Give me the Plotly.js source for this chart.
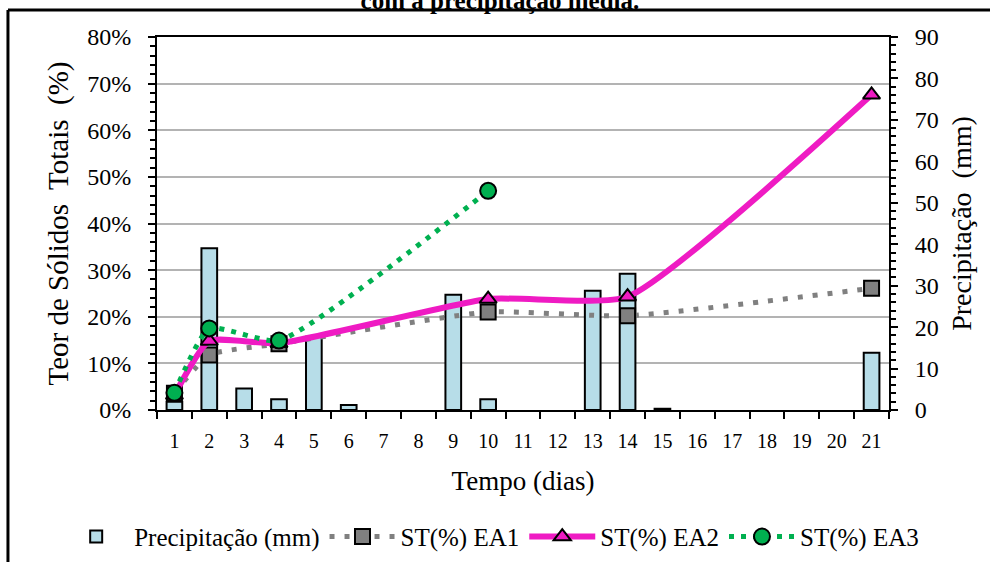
<!DOCTYPE html>
<html>
<head>
<meta charset="utf-8">
<script src="https://cdn.plot.ly/plotly-3.0.1.min.js"></script>
<style>html,body{margin:0;padding:0;background:#fff;}#chart{width:990px;height:562px;}</style>
</head>
<body>
<div id="chart"></div>
<script>
// Categories (days)
var days = ['1','2','3','4','5','6','7','8','9','10','11','12','13','14','15','16','17','18','19','20','21'];
// Precipitation (mm)
var precip = [2.0, 39.0, 5.2, 2.6, 17.7, 1.2, null, null, 27.8, 2.6, null, null, 28.8, 32.9, 0.3, null, null, null, null, null, 13.8];
// Total solids (%)
var stEA1 = [3.6, 11.8, null, 14.2, null, null, null, null, null, 21.0, null, null, null, 20.2, null, null, null, null, null, null, 26.1];
var stEA2 = [3.2, 14.8, null, 14.3, null, null, null, null, null, 23.8, null, null, null, 24.3, null, null, null, null, null, null, 67.6];
var stEA3 = [3.7, 17.5, null, 14.9, null, null, null, null, null, 47.0, null, null, null, null, null, null, null, null, null, null, null];

var serif = '"Liberation Serif", "Times New Roman", Times, serif';

var traces = [
  {type:'bar', x:days, y:precip, name:'Precipitação (mm)', yaxis:'y', width:0.45,
   marker:{color:'#b7dde8', line:{color:'#000', width:2}}},
  {type:'scatter', mode:'lines+markers', x:days, y:stEA1, name:'ST(%) EA1', yaxis:'y2', connectgaps:true,
   line:{color:'#808080', width:5, dash:'5px,10px', shape:'spline', smoothing:0.5},
   marker:{symbol:'square', size:15, color:'#808080', line:{color:'#000', width:2}}},
  {type:'scatter', mode:'lines+markers', x:days, y:stEA2, name:'ST(%) EA2', yaxis:'y2', connectgaps:true,
   line:{color:'#ef1bc3', width:6, shape:'spline', smoothing:0.5},
   marker:{symbol:'triangle-up', size:15, color:'#ef1bc3', line:{color:'#000', width:2}}},
  {type:'scatter', mode:'lines+markers', x:days, y:stEA3, name:'ST(%) EA3', yaxis:'y2', connectgaps:true,
   line:{color:'#00b050', width:5, dash:'5px,7px', shape:'spline', smoothing:0.5},
   marker:{symbol:'circle', size:16, color:'#00b050', line:{color:'#000', width:2}}}
];

var layout = {
  width:990, height:562,
  margin:{l:157, r:101, t:37, b:152, autoexpand:false},
  paper_bgcolor:'#fff', plot_bgcolor:'#fff',
  font:{family:serif, color:'#000', size:22},
  title:{text:'<b>com a precipitação média.</b>', font:{family:serif, size:25, color:'#000'},
         x:0.505, xref:'container', y:1.0, yref:'container', yanchor:'middle'},
  showlegend:true,
  hovermode:false,
  xaxis:{type:'category', range:[-0.5, 20.5], tickson:'boundaries', ticks:'outside', ticklen:7, tickwidth:2, tickcolor:'#000',
         showline:true, linecolor:'#000', linewidth:2, mirror:true, showgrid:false,
         ticklabelstandoff:12,
         tickfont:{family:serif, size:20},
         title:{text:'Tempo (dias)', font:{family:serif, size:27}, standoff:20}},
  yaxis:{range:[0,90], dtick:10, side:'right', showgrid:false, zeroline:false,
         showline:true, linecolor:'#000', linewidth:2,
         ticks:'outside', ticklen:7, tickwidth:2, tickcolor:'#000',
         minor:{dtick:2, ticks:'outside', ticklen:5, tickwidth:2, tickcolor:'#000', showgrid:false},
         ticklabelstandoff:12,
         tickfont:{family:serif, size:24},
         title:{text:'Precipitação&nbsp; (mm)', font:{family:serif, size:28}, standoff:14}},
  yaxis2:{range:[0,80], dtick:10, ticksuffix:'%', side:'left', overlaying:'y',
          showgrid:true, gridcolor:'#b3b3b3', gridwidth:2, zeroline:false,
          showline:true, linecolor:'#000', linewidth:2,
          ticks:'outside', ticklen:7, tickwidth:2, tickcolor:'#000',
          minor:{dtick:2, ticks:'outside', ticklen:5, tickwidth:2, tickcolor:'#000', showgrid:false},
          ticklabelstandoff:12,
          tickfont:{family:serif, size:24},
          title:{text:'Teor de Sólidos&nbsp; Totais&nbsp; (%)', font:{family:serif, size:29}, standoff:10}},
  legend:{orientation:'h', x:-0.135, xanchor:'left', y:-0.34, yanchor:'middle',
          font:{family:serif, size:25}, bgcolor:'rgba(0,0,0,0)', itemwidth:66, tracegroupgap:0},
  shapes:[
    {type:'line', xref:'paper', yref:'paper', x0:-0.2036, x1:1.14, y0:1.0724, y1:1.0724, line:{color:'#000', width:3}},
    {type:'line', xref:'paper', yref:'paper', x0:-0.2036, x1:-0.2036, y0:1.0724, y1:-0.41, line:{color:'#000', width:3}}
  ]
};

Plotly.newPlot('chart', traces, layout, {displayModeBar:false, staticPlot:true});
</script>
</body>
</html>
